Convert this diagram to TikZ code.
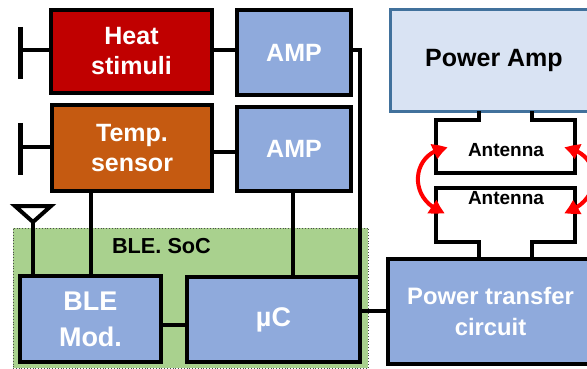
\documentclass[tikz,border=0pt]{standalone}
\usepackage{fontspec}
\setmainfont{Liberation Sans}[BoldFont={Liberation Sans Bold}]
\usetikzlibrary{arrows.meta,bending}
\definecolor{blk}{HTML}{8FAADC}
\definecolor{paf}{HTML}{D9E3F3}
\definecolor{pal}{HTML}{41719C}
\definecolor{red1}{HTML}{C00000}
\definecolor{ora}{HTML}{C55A11}
\definecolor{grn}{HTML}{A9D18E}
\tikzset{
 x=1pt,y=-1pt,
 wire/.style={draw=black,line width=4pt},
 blockbox/.style={draw=black,line width=4pt,inner sep=0pt,outer sep=0pt,align=center,text=white,font=\fontsize{25}{31}\selectfont\bfseries,anchor=north west},
 swap/.style={draw=red,line width=4pt,{Triangle[length=15pt,width=15pt,flex,bend]}-{Triangle[length=15pt,width=15pt,flex,bend]}},
 lab/.style={inner sep=0pt,font=\bfseries}
}
\newcommand{\bx}[8]{\node[blockbox,fill=#6,minimum width=#4pt,minimum height=#5pt,#7] (#1) at (#2,#3) {#8};}
\begin{document}
\begin{tikzpicture}
\useasboundingbox (0,0) rectangle (587,369);
% SoC background
\node[draw=black!70,dotted,fill=grn,line width=.8pt,inner sep=0pt,outer sep=0pt,minimum width=355pt,minimum height=140pt,anchor=north west] (soc) at (13,228) {};
\node[lab,font=\fontsize{21.7}{26}\selectfont\bfseries] (soclab) at (161.5,246) {BLE. SoC};
% Blocks
\bx{heat}{51}{10}{161}{83}{red1}{}{\raisebox{-1pt}{Heat}\\stimuli}
\bx{temp}{52}{105}{160}{86}{ora}{}{\raisebox{-1pt}{Temp.}\\sensor}
\bx{amp1}{237}{10}{114}{85}{blk}{}{AMP}
\bx{amp2}{237}{107}{114}{84}{blk}{}{AMP}
\bx{ble}{20}{276}{141}{86}{blk}{font=\fontsize{27}{36}\selectfont\bfseries}{BLE\\Mod.}
\bx{uc}{187}{277}{173}{85}{blk}{font=\fontsize{27}{33}\selectfont\bfseries}{\raisebox{-1pt}{µC}}
\bx{ptc}{388}{259}{205}{105}{blk}{font=\fontsize{23.8}{31}\selectfont\bfseries}{Power transfer\\circuit}
\node[blockbox,draw=pal,line width=3pt,fill=paf,text=black,minimum width=208pt,minimum height=102pt] (pa) at (390,9.5) {\raisebox{-3pt}{Power Amp}};
% Left stubs
\coordinate (heatbarT) at (20,27);
\coordinate (heatbarB) at (20,79);
\coordinate (heatbarM) at (20,50);
\coordinate (tempbarT) at (20,123);
\coordinate (tempbarB) at (20,175);
\coordinate (tempbarM) at (20,147);
\draw[wire,line width=5pt] (heatbarT) -- (heatbarB);
\draw[wire] (heatbarM) -- (heatbarM -| heat.west);
\draw[wire,line width=5pt] (tempbarT) -- (tempbarB);
\draw[wire] (tempbarM) -- (tempbarM -| temp.west);
% Block connections
\draw[wire] (heat.east |- 0,50) -- (amp1.west |- 0,50);
\draw[wire] (temp.east |- 0,152) -- (amp2.west |- 0,152);
\coordinate (busT) at (360,50);
\draw[wire] (amp1.east |- busT) -- (busT) -- (busT |- uc.north);
\draw[wire] (amp2.south -| 293,0) -- (uc.north -| 293,0);
\draw[wire] (temp.south -| 91,0) -- (ble.north -| 91,0);
\draw[wire] (ble.east |- 0,325) -- (uc.west |- 0,325);
\draw[wire] (uc.east |- 0,311) -- (ptc.west |- 0,311);
% BLE antenna
\coordinate (tipA) at (33,222);
\coordinate (tipL) at (15,206);
\coordinate (tipR) at (51,206);
\draw[wire,line join=miter] (tipA) -- (tipL) -- (tipR) -- cycle;
\draw[wire] (tipA) -- (tipA |- ble.north);
% Coils
\node[lab,font=\fontsize{19}{23}\selectfont\bfseries] (ant1) at (506,150) {Antenna};
\node[lab,font=\fontsize{19}{23}\selectfont\bfseries] (ant2) at (506,198) {Antenna};
\draw[wire,line join=miter] (479,111) |- (436,120) |- (575,173) |- (532,120) -- (532,111);
\draw[wire,line join=miter] (479,259) |- (436,242) |- (575,188) |- (532,242) -- (532,259);
% Red coupling arrows
\coordinate (rlt) at (448,148);
\coordinate (rlb) at (445,213);
\coordinate (rrt) at (564,148);
\coordinate (rrb) at (564,213);
\draw[swap] (rlt) .. controls (412,150) and (405,200) .. (rlb);
\draw[swap] (rrt) .. controls (600,150) and (607,200) .. (rrb);
\end{tikzpicture}
\end{document}
